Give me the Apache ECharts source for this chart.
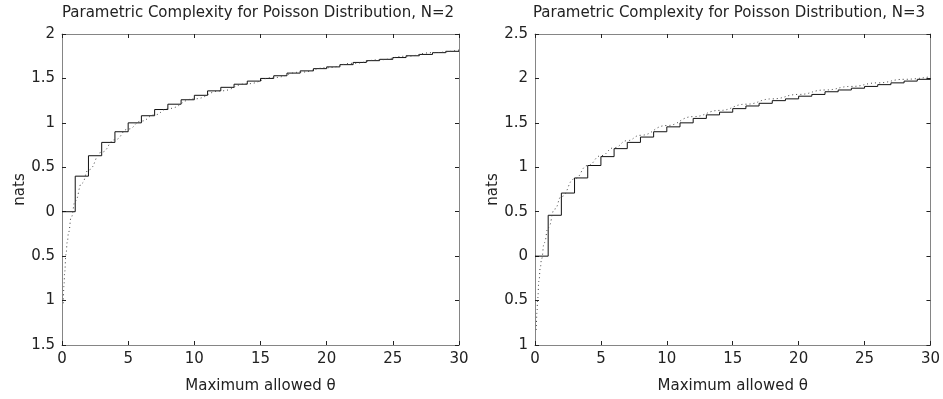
<!DOCTYPE html>
<html>
<head>
<meta charset="utf-8">
<script src="https://cdn.jsdelivr.net/npm/echarts@6/dist/echarts.min.js"></script>
<style>
  html, body { margin: 0; padding: 0; background: #fff; }
  #chart { width: 943px; height: 399px; }
</style>
</head>
<body>
<div id="chart"></div>
<script>
// step heights on [k, k+1), k = 0..29 (read from the picture)
const stepsN2 = [0, 0.40, 0.63, 0.78, 0.90, 1.00, 1.08, 1.15, 1.21, 1.26,
  1.31, 1.36, 1.40, 1.435, 1.47, 1.50, 1.53, 1.56, 1.585, 1.61,
  1.63, 1.655, 1.68, 1.70, 1.715, 1.735, 1.755, 1.77, 1.79, 1.805];
const stepsN3 = [0, 0.46, 0.71, 0.88, 1.02, 1.12, 1.21, 1.28, 1.34, 1.40,
  1.455, 1.50, 1.55, 1.59, 1.62, 1.66, 1.69, 1.72, 1.75, 1.77,
  1.80, 1.82, 1.85, 1.87, 1.89, 1.91, 1.93, 1.95, 1.97, 1.99];
const stepEndN2 = 1.82;
const stepEndN3 = 2.00;

// dotted (asymptotic) curve
const approxTheta = [0.1, 0.15, 0.2, 0.3, 0.4, 0.5, 0.7, 1, 1.5, 2, 3, 4, 5, 6, 7, 8,
  10, 12, 14, 16, 18, 20, 22, 24, 26, 28, 30];
const approxN2 = [-1.03, -0.83, -0.68, -0.48, -0.34, -0.23, -0.06, 0.12, 0.32, 0.47, 0.67, 0.81, 0.93, 1.02, 1.09, 1.16,
  1.27, 1.36, 1.44, 1.51, 1.57, 1.62, 1.67, 1.71, 1.75, 1.79, 1.82];
const approxN3 = [-0.83, -0.63, -0.48, -0.28, -0.13, -0.03, 0.15, 0.32, 0.53, 0.67, 0.87, 1.02, 1.13, 1.22, 1.30, 1.36,
  1.47, 1.57, 1.64, 1.71, 1.77, 1.82, 1.87, 1.91, 1.95, 1.99, 2.02];

const titles = ['Parametric Complexity for Poisson Distribution, N=2',
  'Parametric Complexity for Poisson Distribution, N=3'];
const xName = 'Maximum allowed \u03b8';
const yName = 'nats';

const font = '"DejaVu Sans", sans-serif';
const frame = '#858585';
const ink = '#222';

// [k, height on [k,k+1), height after the jump at k+1]
function stepData(steps, last) {
  return steps.map((v, i) => [i, v, i + 1 < steps.length ? steps[i + 1] : last]);
}
function curveData(xs, ys) {
  return xs.map((x, i) => [x, ys[i]]);
}

// drawn as a custom polyline: the line series drops the tiny risers (<2px)
function renderStep(params, api) {
  const k = api.value(0);
  const p0 = api.coord([k, api.value(1)]);
  const p1 = api.coord([k + 1, api.value(1)]);
  const p2 = api.coord([k + 1, api.value(2)]);
  return {
    type: 'polyline',
    shape: { points: [p0, p1, p2] },
    style: { stroke: '#111', lineWidth: 1, fill: null }
  };
}

const grids = [
  { left: 62, width: 397, top: 34, height: 312 },
  { left: 535, width: 397, top: 34, height: 312 }
];

const xAxes = [];
const yAxes = [];
[0, 1].forEach(g => {
  xAxes.push({
    type: 'value', gridIndex: g, min: 0, max: 30, interval: 5,
    axisLine: { onZero: false, lineStyle: { color: frame, width: 1 } },
    axisTick: { inside: true, length: 4, lineStyle: { color: ink } },
    axisLabel: { color: ink, fontSize: 15, fontFamily: font, margin: 7 },
    splitLine: { show: false },
    name: xName, nameLocation: 'middle', nameGap: 34,
    nameTextStyle: { color: ink, fontSize: 15, fontFamily: font }
  });
  xAxes.push({
    type: 'value', gridIndex: g, position: 'top', min: 0, max: 30, interval: 5,
    axisLine: { onZero: false, lineStyle: { color: frame, width: 1 } },
    axisTick: { inside: true, length: 4, lineStyle: { color: ink } },
    axisLabel: { show: false }, splitLine: { show: false }
  });
  const ymin = g === 0 ? -1.5 : -1;
  const ymax = g === 0 ? 2 : 2.5;
  yAxes.push({
    type: 'value', gridIndex: g, min: ymin, max: ymax, interval: 0.5,
    axisLine: { show: true, onZero: false, lineStyle: { color: frame, width: 1 } },
    axisTick: { show: true, inside: true, length: 4, lineStyle: { color: ink } },
    axisLabel: { color: ink, fontSize: 15, fontFamily: font, margin: 7,
      formatter: v => String(Math.abs(v)) },
    splitLine: { show: false },
    name: yName, nameLocation: 'middle', nameGap: 33,
    nameTextStyle: { color: ink, fontSize: 15, fontFamily: font }
  });
  yAxes.push({
    type: 'value', gridIndex: g, position: 'right', min: ymin, max: ymax, interval: 0.5,
    axisLine: { show: true, onZero: false, lineStyle: { color: frame, width: 1 } },
    axisTick: { show: true, inside: true, length: 4, lineStyle: { color: ink } },
    axisLabel: { show: false }, splitLine: { show: false }
  });
});

const chart = echarts.init(document.getElementById('chart'), null, { renderer: 'canvas' });
chart.setOption({
  animation: false,
  backgroundColor: '#fff',
  title: [
    { text: titles[0], left: 258, top: 6, textAlign: 'center', padding: 0,
      textStyle: { color: ink, fontSize: 15, fontWeight: 'normal', fontFamily: font } },
    { text: titles[1], left: 729, top: 6, textAlign: 'center', padding: 0,
      textStyle: { color: ink, fontSize: 15, fontWeight: 'normal', fontFamily: font } }
  ],
  grid: grids,
  xAxis: xAxes,
  yAxis: yAxes,
  series: [
    { type: 'custom', xAxisIndex: 0, yAxisIndex: 0, data: stepData(stepsN2, stepEndN2),
      encode: { x: 0, y: [1, 2] }, renderItem: renderStep, clip: true },
    { type: 'line', xAxisIndex: 0, yAxisIndex: 0, data: curveData(approxTheta, approxN2),
      smooth: true, smoothMonotone: 'x', symbol: 'none',
      lineStyle: { color: '#444', width: 1, type: [1, 3] } },
    { type: 'custom', xAxisIndex: 2, yAxisIndex: 2, data: stepData(stepsN3, stepEndN3),
      encode: { x: 0, y: [1, 2] }, renderItem: renderStep, clip: true },
    { type: 'line', xAxisIndex: 2, yAxisIndex: 2, data: curveData(approxTheta, approxN3),
      smooth: true, smoothMonotone: 'x', symbol: 'none',
      lineStyle: { color: '#444', width: 1, type: [1, 3] } }
  ]
});
</script>
</body>
</html>
